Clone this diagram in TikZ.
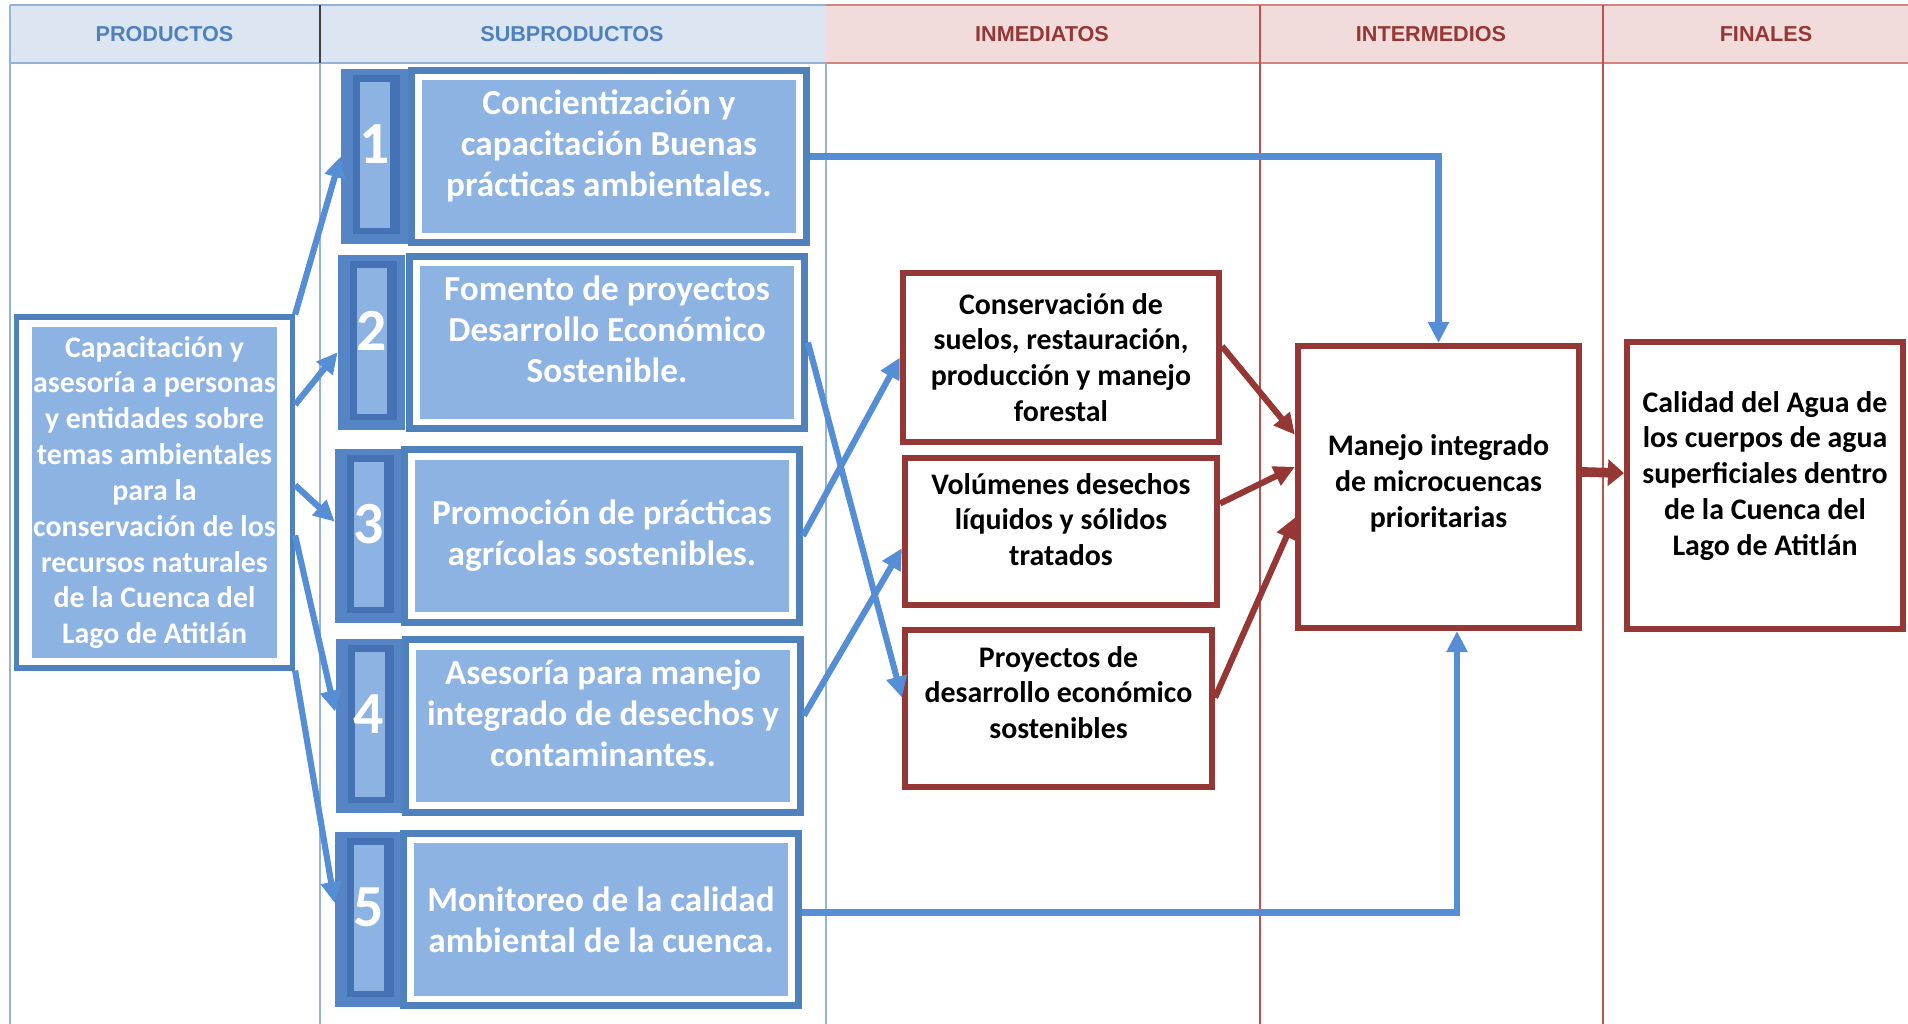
\documentclass[tikz,border=0pt]{standalone}
\usepackage{fontspec}
\setmainfont{Carlito}
\newfontfamily\headfont{Liberation Sans}
\usetikzlibrary{arrows.meta}
\definecolor{frameblue}{HTML}{4F81BD}
\definecolor{arrowblue}{HTML}{558ED5}
\definecolor{fillblue}{HTML}{8DB3E2}
\definecolor{tabblue}{HTML}{5585C5}
\definecolor{ringblue}{HTML}{4472B4}
\definecolor{headblue}{HTML}{DCE6F2}
\definecolor{headpink}{HTML}{F2DCDB}
\definecolor{gridblue}{HTML}{95B3D7}
\definecolor{gridred}{HTML}{C0504D}
\definecolor{darkred}{HTML}{953735}
\definecolor{headtextblue}{HTML}{4F81BD}
\begin{document}
\begin{tikzpicture}[x=0.02cm, y=0.02cm,
	colhead/.style={font=\headfont\bfseries\fontsize{12.3}{14}\selectfont},
	prodbox/.style={draw=frameblue, line width=3pt, fill=white, text=white, align=center,
		minimum width=5.52cm, minimum height=7.02cm, inner sep=0pt,
		font=\bfseries\fontsize{17}{20.4}\selectfont,
		path picture={\fill[fillblue] ([shift={(0.3cm,0.2cm)}]path picture bounding box.south west)
			rectangle ([shift={(-0.3cm,-0.2cm)}]path picture bounding box.north east);}},
	subbox/.style={draw=frameblue, line width=4pt, fill=white, text=white, align=center,
		minimum width=7.9cm, minimum height=3.45cm, inner sep=0pt,
		font=\bfseries\fontsize{20}{23.3}\selectfont,
		path picture={\fill[fillblue] ([shift={(0.2cm,0.2cm)}]path picture bounding box.south west)
			rectangle ([shift={(-0.2cm,-0.2cm)}]path picture bounding box.north east);}},
	numtab/.style={fill=tabblue, minimum width=1.34cm, minimum height=3.5cm, inner sep=0pt,
		path picture={\fill[ringblue] ([shift={(0.24cm,0.2cm)}]path picture bounding box.south west)
			rectangle ([shift={(-0.16cm,-0.12cm)}]path picture bounding box.north east);
			\fill[fillblue] ([shift={(0.38cm,0.32cm)}]path picture bounding box.south west)
			rectangle ([shift={(-0.36cm,-0.26cm)}]path picture bounding box.north east);}},
	num/.style={text=white, inner sep=0pt, font=\bfseries\fontsize{34}{34}\selectfont},
	lift/.style={text depth=#1},
	resbox/.style={draw=darkred, line width=3.5pt, fill=white, align=center, inner sep=0pt,
		font=\bfseries\fontsize{17}{20.4}\selectfont},
	bluearrow/.style={draw=arrowblue, line width=3.5pt, -{Triangle[length=0.42cm,width=0.4cm]}},
	redarrow/.style={draw=darkred, line width=3.5pt, -{Triangle[length=0.42cm,width=0.4cm]}},
	bigarrow/.style={draw=darkred, line width=5.5pt, -{Triangle[length=0.32cm,width=0.52cm]}}]
	\useasboundingbox (0,0) rectangle (1908,-1024);
	\fill [headblue] (10,-5) rectangle (826,-63);
	\fill [headpink] (826,-5) rectangle (1908,-63);
	\draw [gridblue, line width=1pt] (10,-5) -- (826,-5);
	\draw [gridblue, line width=1pt] (10,-63) -- (826,-63);
	\draw [gridred!70, line width=1pt] (826,-5) -- (1908,-5);
	\draw [gridred!70, line width=1pt] (826,-63) -- (1908,-63);
	\draw [black!75, line width=0.7pt] (320,-5) -- (320,-63);
	\draw [gridred, line width=0.8pt] (1260,-5) -- (1260,-63);
	\draw [gridred, line width=0.8pt] (1603,-5) -- (1603,-63);
	\draw [gridblue, line width=1pt] (10,-5) -- (10,-1024);
	\draw [gridblue, line width=1pt] (320,-63) -- (320,-1024);
	\draw [gridblue, line width=1pt] (826,-63) -- (826,-1024);
	\draw [gridred, line width=1pt] (1260,-63) -- (1260,-1024);
	\draw [gridred, line width=1pt] (1603,-63) -- (1603,-1024);
	\node [colhead, text=headtextblue] (hprod) at (164.5,-34) {PRODUCTOS};
	\node [colhead, text=headtextblue] (hsub) at (572,-34) {SUBPRODUCTOS};
	\node [colhead, text=darkred] (hinm) at (1042,-34) {INMEDIATOS};
	\node [colhead, text=darkred] (hint) at (1431,-34) {INTERMEDIOS};
	\node [colhead, text=darkred] (hfin) at (1766,-34) {FINALES};
	\node [numtab] (numtab1) at (374.5,-156.5) {};
	\node [numtab] (numtab2) at (371.5,-342.5) {};
	\node [numtab] (numtab3) at (368.5,-536) {};
	\node [numtab] (numtab4) at (369,-726) {};
	\node [numtab] (numtab5) at (368.5,-919.5) {};
	\node [num] (num1) at ([yshift=0.24cm]numtab1.center) {1};
	\node [num] (num2) at ([yshift=0.24cm]numtab2.center) {2};
	\node [num] (num3) at ([yshift=0.24cm]numtab3.center) {3};
	\node [num] (num4) at ([yshift=0.24cm]numtab4.center) {4};
	\node [num] (num5) at ([yshift=0.24cm]numtab5.center) {5};
	\node [subbox, lift=0.52cm] (sub1) at (609,-156.5) {Concientización y\\capacitación Buenas\\prácticas ambientales.};
	\node [subbox, lift=0.52cm] (sub2) at (607,-342.5) {Fomento de proyectos\\Desarrollo Económico\\Sostenible.};
	\node [subbox] (sub3) at (602,-536) {Promoción de prácticas\\agrícolas sostenibles.};
	\node [subbox, lift=0.52cm] (sub4) at (603,-726) {Asesoría para manejo\\integrado de desechos y\\contaminantes.};
	\node [subbox] (sub5) at (601,-919.5) {Monitoreo de la calidad\\ambiental de la cuenca.};
	\node [prodbox] (prod) at (154.5,-492.5) {Capacitación y\\asesoría a personas\\y entidades sobre\\temas ambientales\\para la\\conservación de los\\recursos naturales\\de la Cuenca del\\Lago de Atitlán};
	\node [resbox, minimum width=6.32cm, minimum height=3.38cm] (immA) at (1061,-357.5) {Conservación de\\suelos, restauración,\\producción y manejo\\forestal};
	\node [resbox, minimum width=6.24cm, minimum height=2.94cm, lift=0.48cm] (immB) at (1061,-531.5) {Volúmenes desechos\\líquidos y sólidos\\tratados};
	\node [resbox, minimum width=6.14cm, minimum height=3.14cm, lift=0.64cm] (immC) at (1058.5,-708.5) {Proyectos de\\desarrollo económico\\sostenibles};
	\node [resbox, minimum width=5.62cm, minimum height=5.64cm, lift=0.24cm] (inter) at (1438.5,-487) {Manejo integrado\\de microcuencas\\prioritarias};
	\node [resbox, minimum width=5.52cm, minimum height=5.74cm, lift=0.49cm] (final) at (1765,-485.5) {Calidad del Agua de\\los cuerpos de agua\\superficiales dentro\\de la Cuenca del\\Lago de Atitlán};
	\draw [bluearrow] (prod.north east) -- (numtab1.west);
	\draw [bluearrow] (prod.32) -- (numtab2.196);
	\draw [bluearrow] (prod.3) -- (numtab3.157);
	\draw [bluearrow] (prod.-17) -- (numtab4.157);
	\draw [bluearrow] (prod.south east) -- (numtab5.154);
	\draw [bluearrow] (sub2.east) -- (immC.176);
	\draw [bluearrow] (sub3.east) -- (immA.west);
	\draw [bluearrow] (sub4.3) -- (immB.186);
	\draw [bluearrow] (sub1.east) -| (inter.north);
	\draw [bluearrow] (sub5.2) -| ([xshift=0.37cm]inter.south);
	\draw [redarrow] (immA.4) -- (inter.160);
	\draw [redarrow] (immB.10) -- (inter.172);
	\draw [redarrow] (immC.4) -- (inter.192);
	\draw [bigarrow] (inter.6) -- (final.175);
\end{tikzpicture}
\end{document}
